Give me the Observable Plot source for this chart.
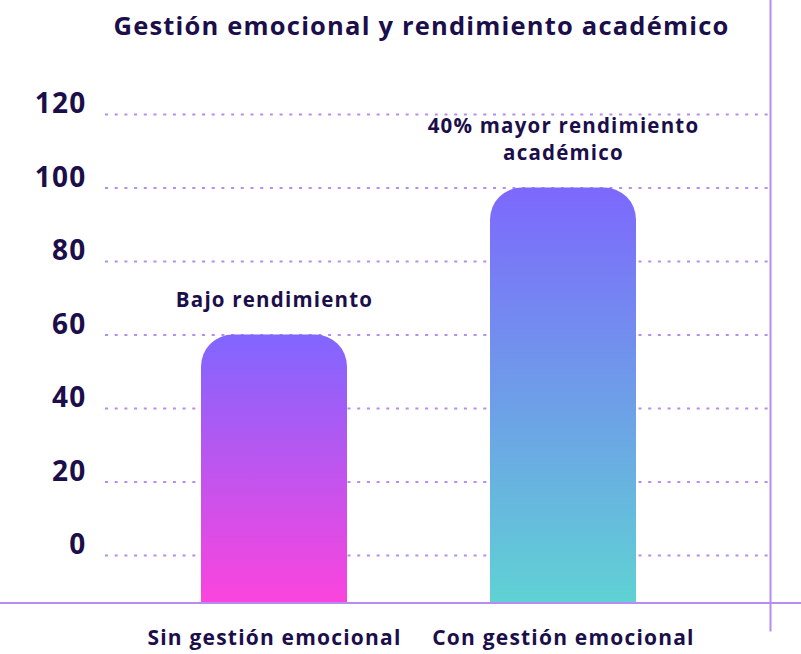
<!DOCTYPE html>
<html><head><meta charset="utf-8">
<script src="https://cdn.jsdelivr.net/npm/d3@7"></script>
<script src="https://cdn.jsdelivr.net/npm/@observablehq/plot@0.6"></script>
<style>body{margin:0;background:#fff;}</style>
</head><body><div id="chart"></div>
<script>
// ---- data ----
const title = "Gestión emocional y rendimiento académico";
const categories = ["Sin gestión emocional", "Con gestión emocional"];
const values = [60, 100];
const notes = ["Bajo rendimiento", "40% mayor rendimiento\nacadémico"];
const yTicks = [0, 20, 40, 60, 80, 100, 120];

// ---- styles / layout ----
const ink = "#1b0e4a";
const lineColor = "#b68cf1";
const barColors = [["#8066ff", "#fb44dd"], ["#7d68fd", "#5fd2d4"]];
const W = 801, H = 654;
const mL = 105, mR = 31, mT = 114, mB = 51.5;
const yMin = -12.93, yMax = 120;
const radius = 32;
const pxPerUnit = (H - mT - mB) / (yMax - yMin);
const barBase = yMin - radius / pxPerUnit; // hidden below the frame so only top corners are round
const font = "'Open Sans', Lato, sans-serif";

const rows = categories.map((c, i) => ({cat: c, value: values[i], note: notes[i], grad: `grad${i}`}));

const gradientDefs = (index, scales) => {
  const defs = d3.create("svg:defs");
  rows.forEach((r, i) => {
    const g = defs.append("linearGradient").attr("id", r.grad)
      .attr("gradientUnits", "userSpaceOnUse")
      .attr("x1", 0).attr("x2", 0)
      .attr("y1", scales.y(r.value)).attr("y2", scales.y(yMin));
    g.append("stop").attr("offset", 0).attr("stop-color", barColors[i][0]);
    g.append("stop").attr("offset", 1).attr("stop-color", barColors[i][1]);
  });
  return defs.node();
};

const chart = Plot.plot({
  width: W, height: H,
  marginLeft: mL, marginRight: mR, marginTop: mT, marginBottom: mB,
  style: {fontFamily: font, background: "#fff", color: ink, letterSpacing: "1.2px"},
  x: {type: "band", domain: categories, range: [200.5, 637], paddingInner: 0.494, paddingOuter: 0, label: null},
  y: {domain: [yMin, yMax], label: null},
  color: {type: "identity"},
  marks: [
    gradientDefs,
    Plot.ruleY(yTicks, {stroke: lineColor, strokeWidth: 2, strokeDasharray: "3,6.7"}),
    Plot.barY(rows, {x: "cat", y1: barBase, y2: "value", fill: d => `url(#${d.grad})`, rx: radius, clip: true}),
    Plot.frame({anchor: "right", stroke: lineColor, strokeWidth: 2, strokeOpacity: 1, insetTop: -mT, insetBottom: -(630 - (H - mB))}),
    Plot.frame({anchor: "bottom", stroke: lineColor, strokeWidth: 2, strokeOpacity: 1, insetLeft: -mL, insetRight: -mR}),
    Plot.axisY(yTicks, {anchor: "left", tickSize: 0, tickPadding: 19, fontSize: 28, fontWeight: 700, fill: ink, dy: -10, label: null}),
    Plot.axisX({anchor: "bottom", tickSize: 0, tickPadding: 27, fontSize: 21, fontWeight: 700, fill: ink, label: null}),
    Plot.text(rows, {x: "cat", y: "value", text: "note", lineAnchor: "bottom", dy: -28, fontSize: 20.5, fontWeight: 700, fill: ink, lineHeight: 1.3}),
    Plot.text([title], {frameAnchor: "top", lineAnchor: "bottom", dy: -(mT - 34), dx: -16.5, fontSize: 25.5, fontWeight: 700, fill: ink})
  ]
});
document.getElementById("chart").append(chart);
</script>
</body></html>
